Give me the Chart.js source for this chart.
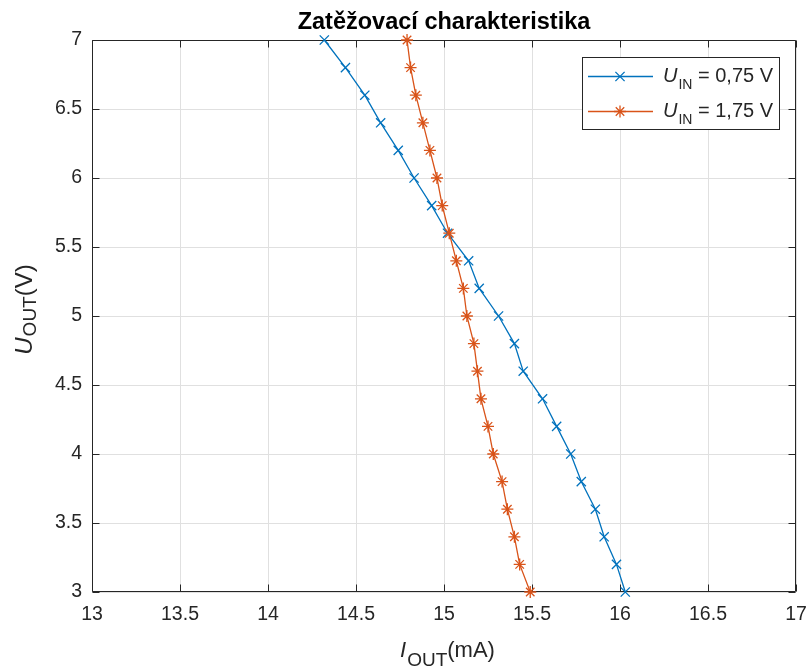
<!DOCTYPE html>
<html>
<head>
<meta charset="utf-8">
<title>Zatěžovací charakteristika</title>
<script src="https://cdn.jsdelivr.net/npm/chart.js@4"></script>
<style>
  html, body { margin: 0; padding: 0; background: #ffffff; }
  #wrap { width: 811px; height: 669px; }
</style>
</head>
<body>
<div id="wrap"><canvas id="chart" width="811" height="669"></canvas></div>
<script>
// Output voltage steps (V)
const uOut = [3.0, 3.2, 3.4, 3.6, 3.8, 4.0, 4.2, 4.4, 4.6, 4.8, 5.0,
              5.2, 5.4, 5.6, 5.8, 6.0, 6.2, 6.4, 6.6, 6.8, 7.0];
// Output current (mA) for U_IN = 0,75 V
const iOutLow = [16.03, 15.98, 15.91, 15.86, 15.78, 15.72, 15.64, 15.56, 15.45, 15.40, 15.31,
                 15.20, 15.14, 15.02, 14.93, 14.83, 14.74, 14.64, 14.55, 14.44, 14.32];
// Output current (mA) for U_IN = 1,75 V
const iOutHigh = [15.49, 15.43, 15.40, 15.36, 15.33, 15.28, 15.25, 15.21, 15.19, 15.17, 15.13,
                  15.11, 15.07, 15.03, 14.99, 14.96, 14.92, 14.88, 14.84, 14.81, 14.79];

const xTicks = [13, 13.5, 14, 14.5, 15, 15.5, 16, 16.5, 17];
const yTicks = [3, 3.5, 4, 4.5, 5, 5.5, 6, 6.5, 7];

const titleText = 'Zatěžovací charakteristika';
const xLabel = { sym: 'I', sub: 'OUT', rest: '(mA)' };
const yLabel = { sym: 'U', sub: 'OUT', rest: '(V)' };
const legendSym = 'U';
const legendSub = 'IN';
const legendRest = [' = 0,75 V', ' = 1,75 V'];

const BLUE = '#0072BD';
const ORANGE = '#D95319';
const AXIS = '#262626';
const GRID = '#e0e0e0';
const FAMILY = '"Liberation Sans", Arial, Helvetica, sans-serif';

// Draws "sym_sub rest" with an italic symbol and a lowered subscript.
function drawSubLabel(ctx, parts, x, y, mainSize, subSize, shift, align) {
  const fMain = mainSize + 'px ' + FAMILY;
  const fIt = 'italic ' + mainSize + 'px ' + FAMILY;
  const fSub = subSize + 'px ' + FAMILY;
  ctx.font = fIt; const w1 = ctx.measureText(parts.sym).width;
  ctx.font = fSub; const w2 = ctx.measureText(parts.sub).width;
  ctx.font = fMain; const w3 = ctx.measureText(parts.rest).width;
  let x0 = x;
  if (align === 'center') x0 = x - (w1 + w2 + w3) / 2;
  ctx.textAlign = 'left';
  ctx.textBaseline = 'alphabetic';
  ctx.font = fIt; ctx.fillText(parts.sym, x0, y);
  ctx.font = fSub; ctx.fillText(parts.sub, x0 + w1 + 1, y + shift);
  ctx.font = fMain; ctx.fillText(parts.rest, x0 + w1 + w2 + 1, y);
}

const decorations = {
  id: 'decorations',
  beforeDatasetsDraw(chart) {
    const { ctx, chartArea: a, scales } = chart;
    const L = Math.round(a.left) + 0.5, R = Math.round(a.right) - 0.5;
    const T = Math.round(a.top) + 0.5, B = Math.round(a.bottom) - 0.5;
    ctx.save();
    ctx.strokeStyle = AXIS;
    ctx.lineWidth = 1;
    ctx.beginPath();
    ctx.rect(L, T, R - L, B - T);
    // inward tick marks on all four sides
    const tl = 7;
    xTicks.forEach(v => {
      const px = Math.round(scales.x.getPixelForValue(v)) + 0.5;
      ctx.moveTo(px, B); ctx.lineTo(px, B - tl);
      ctx.moveTo(px, T); ctx.lineTo(px, T + tl);
    });
    yTicks.forEach(v => {
      const py = Math.round(scales.y.getPixelForValue(v)) + 0.5;
      ctx.moveTo(L, py); ctx.lineTo(L + tl, py);
      ctx.moveTo(R, py); ctx.lineTo(R - tl, py);
    });
    ctx.stroke();
    ctx.restore();
  },
  afterDraw(chart) {
    const { ctx, chartArea: a } = chart;
    ctx.save();
    // title
    ctx.fillStyle = '#000000';
    ctx.font = 'bold 23.5px ' + FAMILY;
    ctx.textAlign = 'center';
    ctx.textBaseline = 'alphabetic';
    ctx.fillText(titleText, (a.left + a.right) / 2, 29);

    // axis titles
    ctx.fillStyle = AXIS;
    drawSubLabel(ctx, xLabel, (a.left + a.right) / 2 + 3, 657, 22, 19, 9, 'center');
    ctx.save();
    ctx.translate(32, (a.top + a.bottom) / 2 - 6);
    ctx.rotate(-Math.PI / 2);
    drawSubLabel(ctx, yLabel, 0, 0, 24, 19, 4, 'center');
    ctx.restore();

    // legend
    const bx = a.right - 214, by = a.top + 17, bw = 197, bh = 72;
    ctx.fillStyle = '#ffffff';
    ctx.fillRect(bx, by, bw, bh);
    ctx.strokeStyle = AXIS;
    ctx.lineWidth = 1;
    ctx.strokeRect(bx + 0.5, by + 0.5, bw, bh);
    const rows = [by + 19, by + 54];
    chart.data.datasets.forEach((ds, i) => {
      const ry = rows[i] + 0.5;
      ctx.strokeStyle = ds.borderColor;
      ctx.fillStyle = ds.borderColor;
      ctx.lineWidth = ds.borderWidth;
      ctx.beginPath();
      ctx.moveTo(bx + 6, ry);
      ctx.lineTo(bx + 71, ry);
      ctx.stroke();
      Chart.helpers.drawPoint(ctx, {
        pointStyle: ds.pointStyle,
        radius: ds.pointRadius,
        rotation: 0,
        borderWidth: ds.pointBorderWidth
      }, bx + 38, ry);
      ctx.fillStyle = AXIS;
      drawSubLabel(ctx, { sym: legendSym, sub: legendSub, rest: legendRest[i] },
                   bx + 81, rows[i] + 6, 20, 14, 7, 'left');
    });
    ctx.restore();
  }
};

const tickFont = { family: FAMILY, size: 19.5 };

new Chart(document.getElementById('chart'), {
  type: 'scatter',
  data: {
    datasets: [
      {
        data: uOut.map((u, i) => ({ x: iOutLow[i], y: u })),
        showLine: true,
        borderColor: BLUE,
        borderWidth: 1.3,
        pointStyle: 'crossRot',
        pointRadius: 6.5,
        pointBorderWidth: 1.3,
        pointBorderColor: BLUE,
        pointBackgroundColor: BLUE,
        clip: false,
        order: 1
      },
      {
        data: uOut.map((u, i) => ({ x: iOutHigh[i], y: u })),
        showLine: true,
        borderColor: ORANGE,
        borderWidth: 1.3,
        pointStyle: 'star',
        pointRadius: 6,
        pointBorderWidth: 1.3,
        pointBorderColor: ORANGE,
        pointBackgroundColor: ORANGE,
        clip: false,
        order: 0
      }
    ]
  },
  options: {
    responsive: false,
    animation: false,
    events: [],
    layout: { padding: { left: 0, right: 15, top: 40, bottom: 0 } },
    plugins: {
      legend: { display: false },
      tooltip: { enabled: false },
      title: { display: false }
    },
    scales: {
      x: {
        type: 'linear',
        min: 13, max: 17,
        afterBuildTicks: s => { s.ticks = xTicks.map(v => ({ value: v })); },
        afterFit: s => { s.height = 77; s.paddingLeft = 0; s.paddingRight = 0; },
        grid: { color: GRID, lineWidth: 1, drawTicks: false },
        border: { display: false },
        ticks: {
          padding: 11, font: tickFont, color: AXIS,
          maxRotation: 0, autoSkip: false,
          callback: v => String(v)
        }
      },
      y: {
        type: 'linear',
        min: 3, max: 7,
        afterBuildTicks: s => { s.ticks = yTicks.map(v => ({ value: v })); },
        afterFit: s => { s.width = 92; s.paddingTop = 0; s.paddingBottom = 0; },
        grid: { color: GRID, lineWidth: 1, drawTicks: false },
        border: { display: false },
        ticks: {
          padding: 10, font: tickFont, color: AXIS,
          autoSkip: false,
          callback: v => String(v)
        }
      }
    }
  },
  plugins: [decorations]
});
</script>
</body>
</html>
